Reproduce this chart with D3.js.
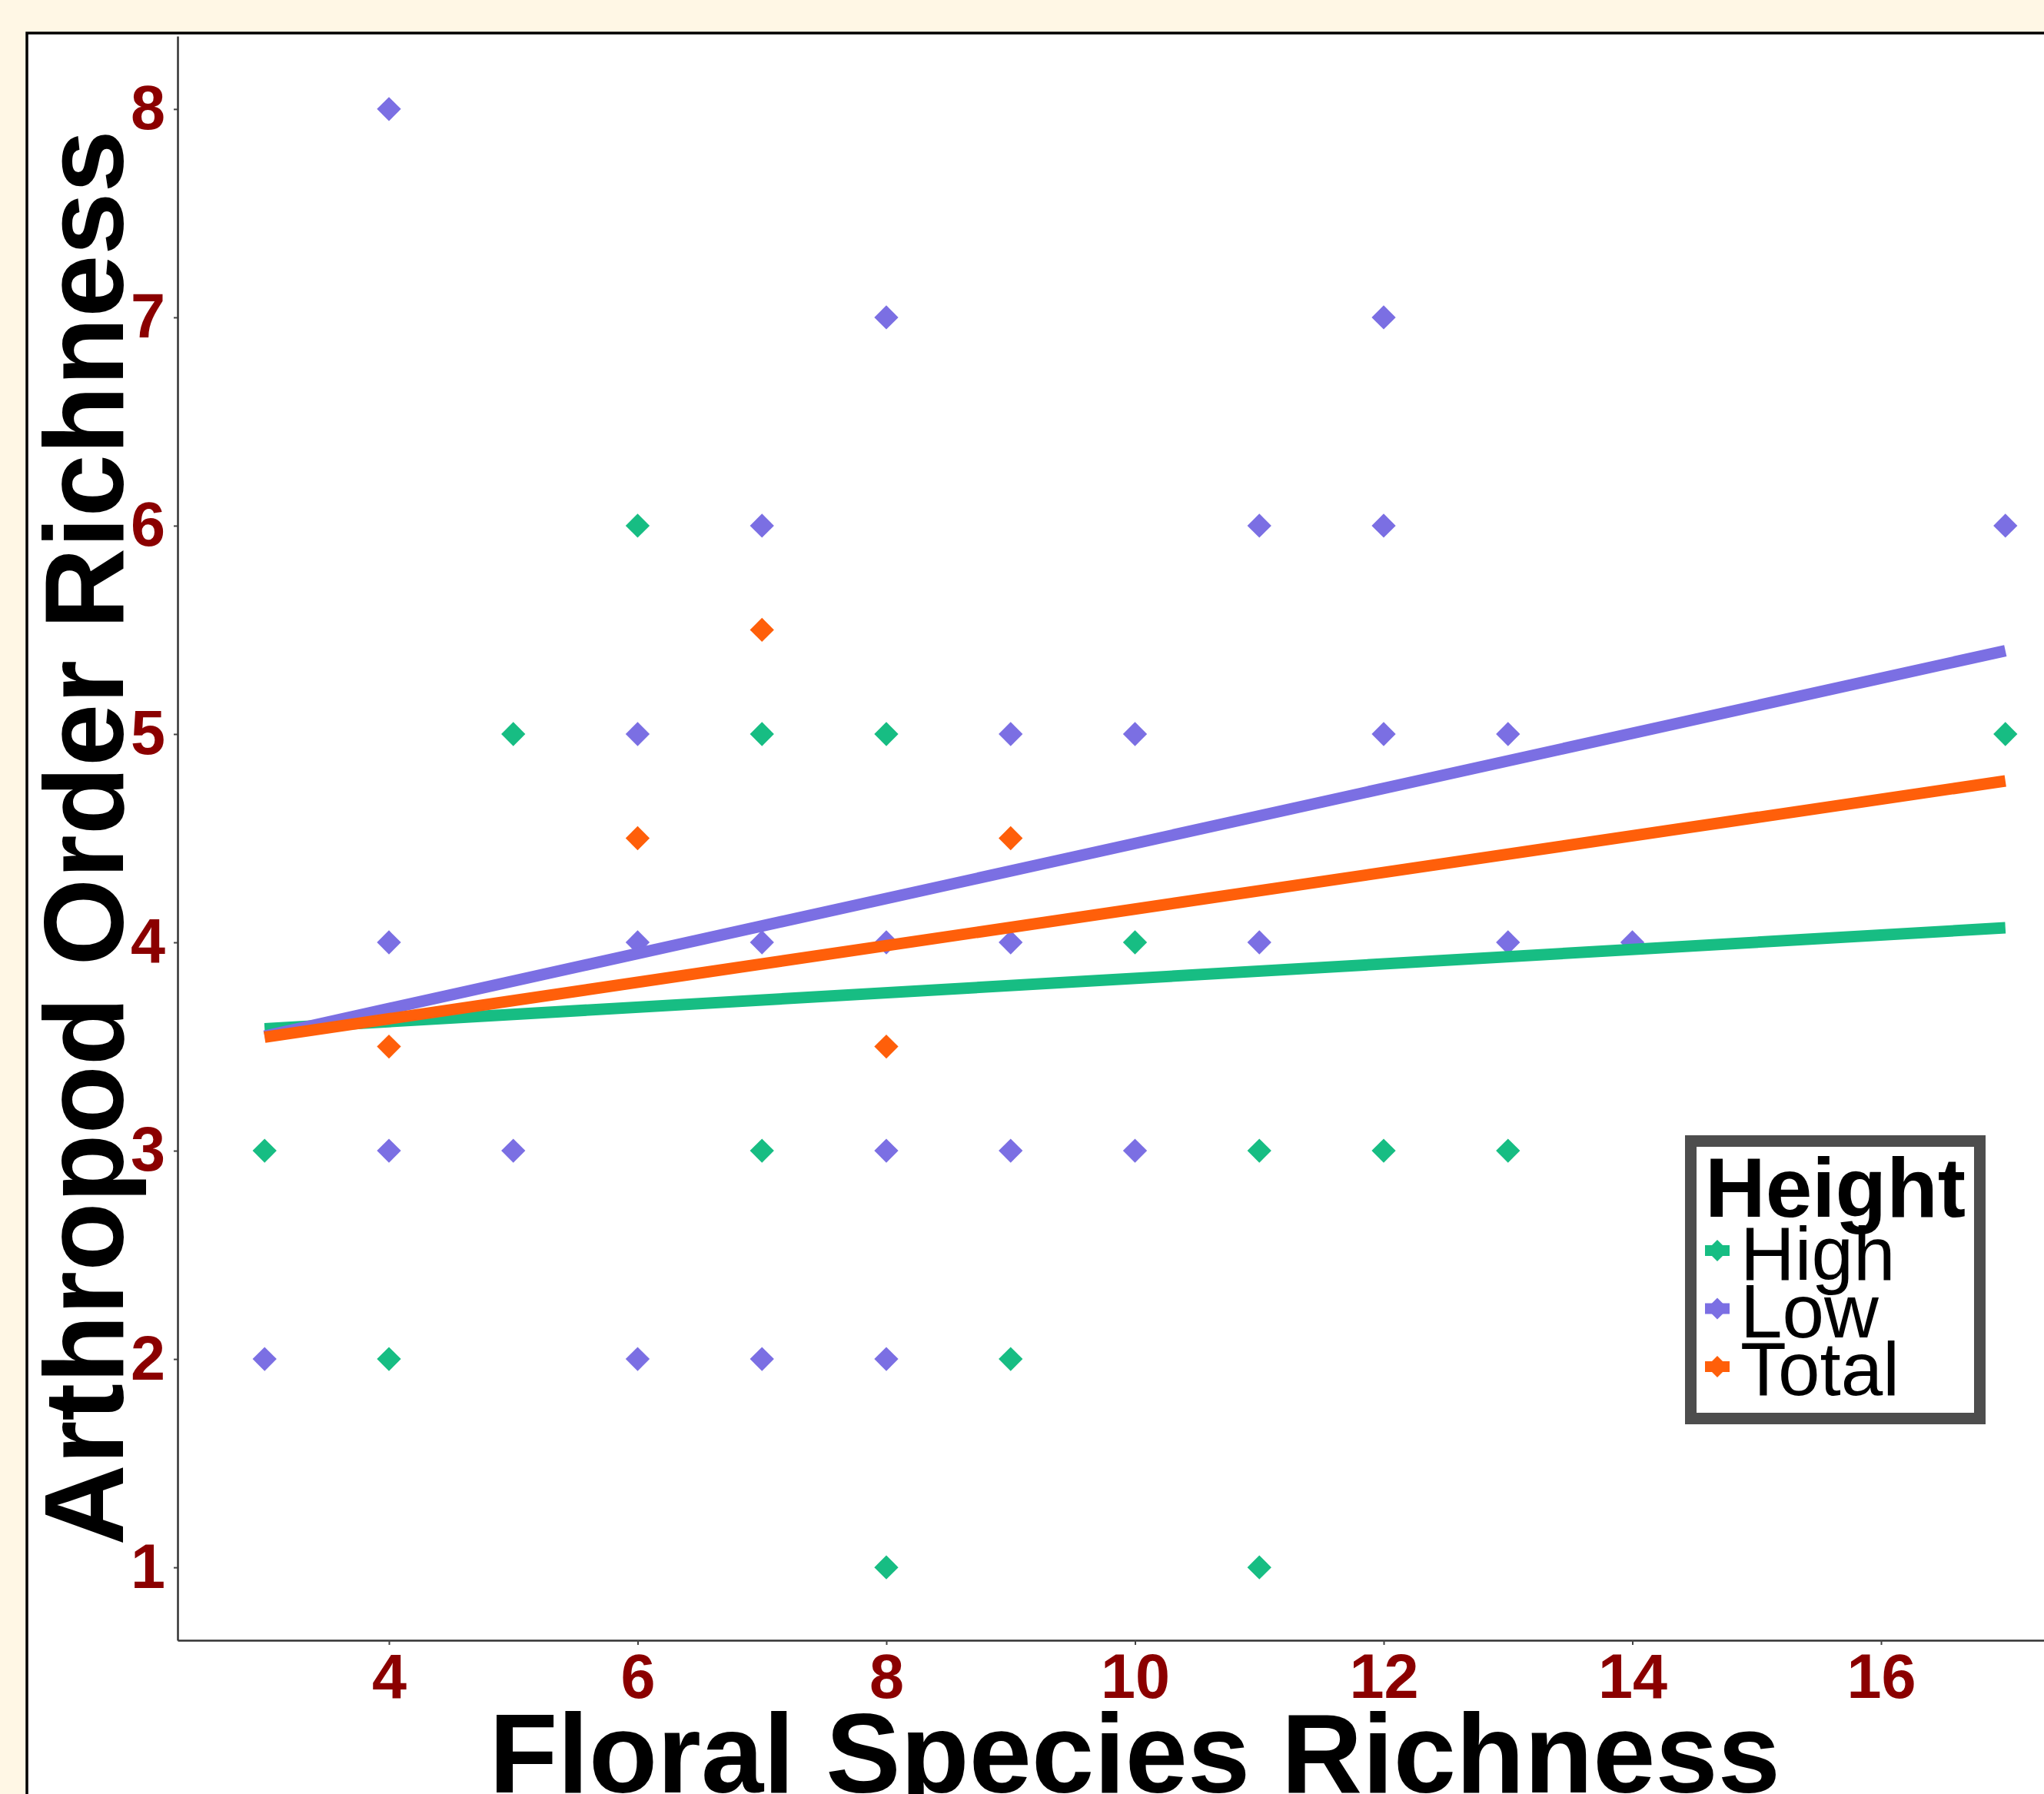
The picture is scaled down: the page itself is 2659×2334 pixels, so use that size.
<!DOCTYPE html>
<html>
<head>
<meta charset="utf-8">
<script src="https://cdn.jsdelivr.net/npm/d3@7"></script>
<style>
body { margin: 0; background: #fff7e5; }
svg { display: block; }
</style>
</head>
<body>
<div id="chart"></div>
<script>
// groups and their colours
var heights = ["High", "Low", "Total"];
var colors = ["#17bd83", "#7b6fe3", "#ff5f0a"];

// points, [floral richness, arthropod order richness]
var highPoints = [[6,6],[5,5],[7,5],[8,5],[17,5],[10,4],[3,3],[7,3],[11,3],[12,3],[13,3],[4,2],[9,2],[8,1],[11,1]];
var lowPoints = [[4,8],[8,7],[12,7],[7,6],[11,6],[12,6],[17,6],[6,5],[9,5],[10,5],[12,5],[13,5],
                 [4,4],[6,4],[7,4],[8,4],[9,4],[11,4],[13,4],[14,4],[4,3],[5,3],[8,3],[9,3],[10,3],
                 [3,2],[6,2],[7,2],[8,2]];
var totalPoints = [[7,5.5],[6,4.5],[9,4.5],[4,3.5],[8,3.5]];

// fitted lines, value at x = 3 and x = 17
var fitX = [3, 17];
var highFit = [3.585, 4.07];
var lowFit = [3.55, 5.40];
var totalFit = [3.545, 4.775];

var xTicks = [4, 6, 8, 10, 12, 14, 16];
var yTicks = [1, 2, 3, 4, 5, 6, 7, 8];

var W = 2659, H = 2334;
var font = "'Liberation Sans', Arial, Helvetica, sans-serif";

var svg = d3.select("#chart").append("svg")
    .attr("width", W)
    .attr("height", H);

svg.append("rect")
    .attr("width", W).attr("height", H)
    .attr("fill", "#fff7e5");

// plot background with its black frame (runs off the right and bottom)
svg.append("rect")
    .attr("x", 35).attr("y", 43)
    .attr("width", 2800).attr("height", 2500)
    .attr("fill", "#ffffff")
    .attr("stroke", "#000")
    .attr("stroke-width", 3.5);

var x = d3.scaleLinear().domain([2.3, 17.7]).range([231, 2722]);
var y = d3.scaleLinear().domain([0.65, 8.35]).range([2134, 47]);

// points
var pointSets = [highPoints, lowPoints, totalPoints];
var diamond = d3.symbol().type(d3.symbolSquare).size(490);

pointSets.forEach(function(pts, i) {
    svg.append("g").selectAll("path")
        .data(pts)
        .enter()
        .append("path")
        .attr("d", diamond)
        .attr("transform", function(d) {
            return "translate(" + x(d[0]) + "," + y(d[1]) + ") rotate(45)";
        })
        .attr("fill", colors[i]);
});

// fitted lines on top of the points
var fits = [highFit, lowFit, totalFit];
var line = d3.line()
    .x(function(d) { return x(d[0]); })
    .y(function(d) { return y(d[1]); });

fits.forEach(function(f, i) {
    var pts = fitX.map(function(v, j) { return [v, f[j]]; });
    svg.append("path")
        .datum(pts)
        .attr("d", line)
        .attr("fill", "none")
        .attr("stroke", colors[i])
        .attr("stroke-width", 15);
});

// axes
var yAxis = svg.append("g")
    .attr("transform", "translate(231,0)")
    .call(d3.axisLeft(y).tickValues(yTicks).tickSize(5).tickSizeOuter(0).tickPadding(11));

var xAxis = svg.append("g")
    .attr("transform", "translate(0,2134)")
    .call(d3.axisBottom(x).tickValues(xTicks).tickSize(6).tickSizeOuter(0).tickPadding(11));

[yAxis, xAxis].forEach(function(a) {
    a.select(".domain").attr("stroke", "#333").attr("stroke-width", 2.5);
    a.selectAll(".tick line").attr("stroke", "#444").attr("stroke-width", 2);
    a.selectAll(".tick text")
        .attr("fill", "#8b0000")
        .style("font-family", font)
        .style("font-weight", "bold")
        .style("font-size", "81px");
});

// axis titles
svg.append("text")
    .attr("transform", "translate(160,1090) rotate(-90)")
    .attr("text-anchor", "middle")
    .style("font-family", font)
    .style("font-weight", "bold")
    .style("font-size", "146px")
    .text("Arthropod Order Richness");

svg.append("text")
    .attr("x", 1476)
    .attr("y", 2332)
    .attr("text-anchor", "middle")
    .style("font-family", font)
    .style("font-weight", "bold")
    .style("font-size", "146px")
    .text("Floral Species Richness");

// legend
var legend = svg.append("g");

legend.append("rect")
    .attr("x", 2199.5).attr("y", 1484.5)
    .attr("width", 376).attr("height", 361)
    .attr("fill", "#fff")
    .attr("stroke", "#4d4d4d")
    .attr("stroke-width", 15);

legend.append("text")
    .attr("x", 2218).attr("y", 1583)
    .style("font-family", font)
    .style("font-weight", "bold")
    .style("font-size", "109px")
    .text("Height");

var keyDiamond = d3.symbol().type(d3.symbolSquare).size(392);

heights.forEach(function(h, i) {
    var ky = 1627 + i * 75.5;
    legend.append("line")
        .attr("x1", 2218).attr("x2", 2250)
        .attr("y1", ky).attr("y2", ky)
        .attr("stroke", colors[i])
        .attr("stroke-width", 14);
    legend.append("path")
        .attr("d", keyDiamond)
        .attr("transform", "translate(2234," + ky + ") rotate(45)")
        .attr("fill", colors[i]);
    legend.append("text")
        .attr("x", 2264)
        .attr("y", 1665 + i * 75)
        .style("font-family", font)
        .style("font-size", "98px")
        .text(h);
});
</script>
</body>
</html>
